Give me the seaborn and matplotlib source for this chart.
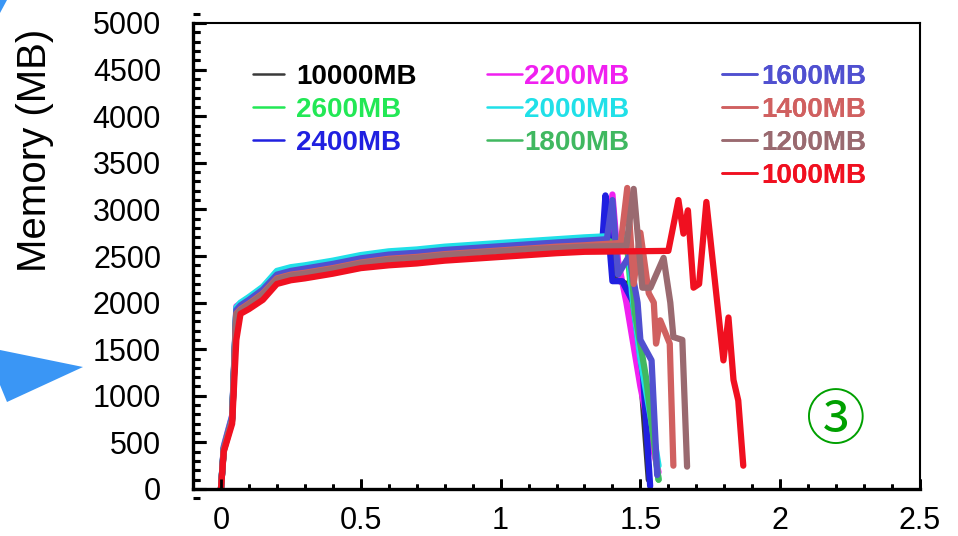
import matplotlib
matplotlib.use("Agg")
import matplotlib.pyplot as plt
from matplotlib.lines import Line2D
from matplotlib.patches import Polygon
from matplotlib.ticker import MultipleLocator, FixedLocator
import seaborn as sns

# ---------------- data ----------------
series_names = ["10000MB", "2600MB", "2400MB", "2200MB", "2000MB",
                "1800MB", "1600MB", "1400MB", "1200MB", "1000MB"]
series_colors = ["#3a3a3a", "#22e855", "#2020e0", "#f020f0", "#20e0e8",
                 "#40b860", "#5050d0", "#d06060", "#9a6a70", "#f01020"]
label_colors = ["#000000", "#22e855", "#2020e0", "#f020f0", "#20e0e8",
                "#40b860", "#5050d0", "#d06060", "#9a6a70", "#f01020"]

# shared sampling times of the start-up / plateau phase (s)
ramp_x = [0, 0.01, 0.04, 0.055, 0.07, 0.1, 0.15, 0.2, 0.25, 0.3, 0.4, 0.5,
          0.6, 0.7, 0.8, 0.9, 1.0, 1.1, 1.2, 1.3]

ramp_10000 = [0, 420, 750, 1850, 1960, 2020, 2130, 2290, 2340, 2360, 2410, 2470,
              2510, 2530, 2560, 2580, 2600, 2620, 2640, 2660]
ramp_2600 = [0, 440, 770, 1940, 1990, 2050, 2160, 2330, 2370, 2390, 2440, 2500,
             2540, 2560, 2590, 2610, 2630, 2650, 2670, 2690]
ramp_2400 = [0, 430, 760, 1930, 1980, 2040, 2150, 2310, 2350, 2375, 2425, 2485,
             2525, 2545, 2575, 2595, 2615, 2635, 2655, 2675]
ramp_2200 = [0, 460, 790, 1960, 1990, 2040, 2150, 2320, 2360, 2380, 2430, 2490,
             2530, 2550, 2580, 2600, 2620, 2640, 2660, 2680]
ramp_2000 = [0, 450, 780, 1950, 2000, 2060, 2170, 2340, 2380, 2400, 2450, 2510,
             2550, 2570, 2600, 2620, 2640, 2660, 2680, 2700]
ramp_1800 = [0, 430, 760, 1910, 1960, 2020, 2130, 2290, 2330, 2355, 2405, 2465,
             2505, 2525, 2555, 2575, 2595, 2615, 2635, 2655]
ramp_1600 = [0, 440, 770, 1920, 1970, 2030, 2140, 2300, 2340, 2365, 2415, 2475,
             2515, 2535, 2565, 2585, 2605, 2625, 2645, 2665]
ramp_1400 = [0, 420, 740, 1880, 1930, 1990, 2100, 2260, 2300, 2320, 2370, 2430,
             2470, 2490, 2520, 2540, 2560, 2580, 2600, 2615]
ramp_1200 = [0, 410, 730, 1870, 1920, 1980, 2090, 2250, 2290, 2310, 2360, 2420,
             2460, 2480, 2510, 2530, 2550, 2570, 2585, 2600]
ramp_1000 = [0, 400, 700, 1600, 1880, 1930, 2030, 2200, 2240, 2260, 2310, 2370,
             2400, 2420, 2450, 2470, 2490, 2510, 2530, 2545]

# tail (peak and release) of each run
tail_x_10000 = [1.37, 1.385, 1.41, 1.45, 1.50, 1.53]
tail_y_10000 = [2690, 3050, 2250, 2200, 1300, 100]
tail_x_2600 = [1.37, 1.40, 1.45, 1.47, 1.51, 1.54, 1.565]
tail_y_2600 = [2700, 2650, 2700, 2000, 1300, 700, 100]
tail_x_2400 = [1.365, 1.375, 1.40, 1.435, 1.475, 1.51, 1.535]
tail_y_2400 = [2700, 3150, 2230, 2230, 2000, 1200, 30]
tail_x_2200 = [1.39, 1.40, 1.42, 1.45, 1.50, 1.54, 1.565]
tail_y_2200 = [2700, 3160, 2450, 2000, 1100, 500, 180]
tail_x_2000 = [1.37, 1.40, 1.455, 1.47, 1.50, 1.535, 1.565]
tail_y_2000 = [2710, 2600, 2740, 2100, 1400, 800, 250]
tail_x_1800 = [1.38, 1.42, 1.46, 1.48, 1.52, 1.565]
tail_y_1800 = [2670, 2620, 2690, 1900, 1200, 100]
tail_x_1600 = [1.38, 1.40, 1.42, 1.46, 1.49, 1.50, 1.54, 1.56]
tail_y_1600 = [2680, 3100, 2300, 2500, 2000, 1600, 1380, 150]
tail_x_1400 = [1.43, 1.453, 1.476, 1.50, 1.53, 1.548, 1.556, 1.571, 1.605, 1.618]
tail_y_1400 = [2640, 3230, 2200, 2750, 2100, 2000, 1560, 1810, 1560, 250]
tail_x_1200 = [1.45, 1.476, 1.507, 1.536, 1.583, 1.607, 1.618, 1.65, 1.667]
tail_y_1200 = [2610, 3220, 2160, 2160, 2480, 2000, 1630, 1600, 240]
tail_x_1000 = [1.6, 1.636, 1.654, 1.67, 1.69, 1.71, 1.736, 1.797, 1.815, 1.833, 1.85, 1.868]
tail_y_1000 = [2555, 3100, 2740, 2990, 2160, 2200, 3080, 1380, 1840, 1170, 950, 250]

x_ticks = [0, 0.5, 1, 1.5, 2, 2.5]
x_tick_labels = ["0", "0.5", "1", "1.5", "2", "2.5"]
y_ticks = [0, 500, 1000, 1500, 2000, 2500, 3000, 3500, 4000, 4500, 5000]

parts = {
    "10000MB": (ramp_10000, tail_x_10000, tail_y_10000),
    "2600MB": (ramp_2600, tail_x_2600, tail_y_2600),
    "2400MB": (ramp_2400, tail_x_2400, tail_y_2400),
    "2200MB": (ramp_2200, tail_x_2200, tail_y_2200),
    "2000MB": (ramp_2000, tail_x_2000, tail_y_2000),
    "1800MB": (ramp_1800, tail_x_1800, tail_y_1800),
    "1600MB": (ramp_1600, tail_x_1600, tail_y_1600),
    "1400MB": (ramp_1400, tail_x_1400, tail_y_1400),
    "1200MB": (ramp_1200, tail_x_1200, tail_y_1200),
    "1000MB": (ramp_1000, tail_x_1000, tail_y_1000),
}
palette = dict(zip(series_names, series_colors))
draw_order = ["10000MB", "2600MB", "2200MB", "2400MB", "2000MB",
              "1800MB", "1600MB", "1400MB", "1200MB", "1000MB"]

# ---------------- figure ----------------
sns.set_style("ticks")
plt.rcParams["font.family"] = ["Liberation Sans", "DejaVu Sans"]

W, H = 958, 536
AX_L, AX_R, AX_T, AX_B = 193, 920, 23, 489
fig = plt.figure(figsize=(W / 100, H / 100), dpi=100)
ax = fig.add_axes([AX_L / W, 1 - AX_B / H, (AX_R - AX_L) / W, (AX_B - AX_T) / H])

for name in draw_order:
    ry, tx, ty = parts[name]
    sns.lineplot(x=ramp_x + tx, y=ry + ty, color=palette[name], sort=False,
                 estimator=None, linewidth=4.5, legend=False, ax=ax)

# ---------------- legend (three columns) ----------------
columns = [
    (["10000MB", "2600MB", "2400MB"], 253, 1.1, 0.45),
    (["2200MB", "2000MB", "1800MB"], 487, 1.25, 0.08),
    (["1600MB", "1400MB", "1200MB", "1000MB"], 722, 1.25, 0.17),
]
for names, xpx, hlen, hpad in columns:
    handles = [Line2D([0], [0], color=palette[n], lw=1.8) for n in names]
    leg = ax.legend(handles, names, loc="upper left",
                    bbox_to_anchor=(xpx / W, 1 - 64 / H),
                    bbox_transform=fig.transFigure, frameon=False,
                    borderpad=0, borderaxespad=0, handlelength=hlen,
                    handletextpad=hpad, labelspacing=0.25,
                    prop={"family": "Liberation Sans", "weight": "bold", "size": 20})
    for txt, n in zip(leg.get_texts(), names):
        txt.set_color(label_colors[series_names.index(n)])
    ax.add_artist(leg)

# ---------------- slide decorations ----------------
fig.add_artist(Polygon([(0, 1 - 350 / H), (83 / W, 1 - 367 / H), (7 / W, 1 - 402 / H),
                        (0, 1 - 385 / H)], closed=True, transform=fig.transFigure,
                       facecolor="#3a96f5", edgecolor="none"))
fig.add_artist(Polygon([(0, 1), (7 / W, 1), (0, 1 - 13 / H)], closed=True,
                       transform=fig.transFigure, facecolor="#3a96f5", edgecolor="none"))

fig.text(836 / W, 1 - 422 / H, "③", ha="center", va="center", fontsize=43,
         color="#00a000", family=["Noto Sans CJK JP", "DejaVu Sans"])

# y-axis label
fig.text(35 / W, 1 - 150 / H, "Memory (MB)", rotation=90, ha="center", va="center",
         fontsize=29, color="black")

# ---------------- spines and ticks ----------------
for side, lw in [("left", 2.4), ("bottom", 2.4), ("top", 1.5), ("right", 1.5)]:
    ax.spines[side].set_visible(True)
    ax.spines[side].set_color("black")
    ax.spines[side].set_linewidth(lw)

ax.set_xlim(-0.1, 2.5)
ax.set_ylim(0, 5000)
ax.xaxis.set_major_locator(FixedLocator(x_ticks))
ax.yaxis.set_major_locator(FixedLocator(y_ticks))
ax.set_xticklabels(x_tick_labels)
ax.set_yticklabels([str(v) for v in y_ticks])
ax.xaxis.set_minor_locator(MultipleLocator(0.1))
ax.yaxis.set_minor_locator(MultipleLocator(100))
ax.tick_params(axis="both", which="both", direction="in", bottom=True, left=True,
               top=False, right=False, color="black", labelcolor="black")
ax.tick_params(axis="y", which="major", length=9.5, width=2.2, pad=23, labelsize=22)
ax.tick_params(axis="y", which="minor", length=5, width=2.2)
ax.tick_params(axis="x", which="major", length=7.5, width=2.0, pad=12, labelsize=22)
ax.tick_params(axis="x", which="minor", length=3.5, width=2.0)

# inward tick marks also drawn as line collections at the locator positions,
# so they show regardless of the style's tick settings
ax_w_px = AX_R - AX_L
ax_h_px = AX_B - AX_T
ytf = ax.get_yaxis_transform()   # x in axes fraction, y in data
xtf = ax.get_xaxis_transform()   # x in data, y in axes fraction
y_major = list(ax.yaxis.get_majorticklocs())
y_minor = list(ax.yaxis.get_minorticklocs())
x_major = list(ax.xaxis.get_majorticklocs())
x_minor = [v for v in ax.xaxis.get_minorticklocs() if -0.1 < v < 2.5]
ax.hlines(y_major, 0, 13 / ax_w_px, transform=ytf, colors="black", linewidth=2.2,
          clip_on=False, zorder=5)
ax.hlines(y_minor, 0, 7 / ax_w_px, transform=ytf, colors="black", linewidth=2.2,
          clip_on=False, zorder=5)
ax.vlines(x_major, 0, 10 / ax_h_px, transform=xtf, colors="black", linewidth=2.0,
          clip_on=False, zorder=5)
ax.vlines(x_minor, 0, 5 / ax_h_px, transform=xtf, colors="black", linewidth=2.0,
          clip_on=False, zorder=5)
ax.set_xlim(-0.1, 2.5)
ax.set_ylim(0, 5000)

fig.savefig("out.png", dpi=100)
